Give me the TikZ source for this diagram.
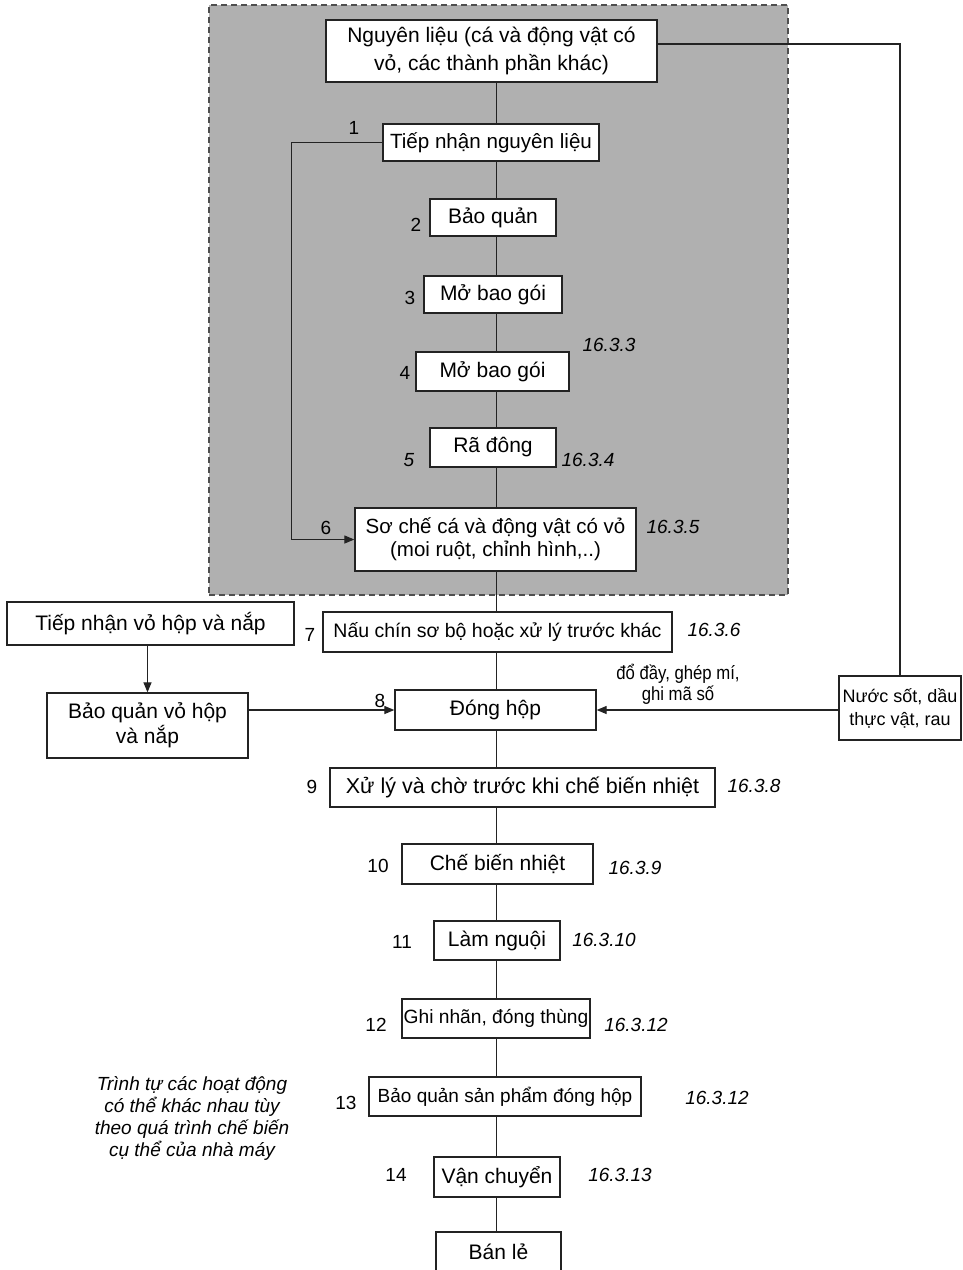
\documentclass[tikz,border=0pt]{standalone}
\usepackage{fontspec}
\setmainfont{Liberation Sans}
\newfontfamily\narrowfont[FakeStretch=0.88]{Liberation Sans}
\usetikzlibrary{arrows.meta}
\definecolor{bggray}{RGB}{176,176,176}
\definecolor{ink}{RGB}{35,35,35}
\newcommand{\fsz}[2]{\fontsize{#1}{#2}\selectfont}
\begin{document}
\begin{tikzpicture}[x=1pt,y=-1pt,
  box/.style={draw=ink, line width=1.3pt, fill=white, inner sep=0pt, align=center, font=\fsz{21}{26}},
  num/.style={inner sep=0pt, font=\fsz{19}{22}},
  ref/.style={inner sep=0pt, font=\fsz{19}{22}\itshape},
  link/.style={draw=ink, line width=1.2pt},
  arr/.style={link, -{Triangle[length=10pt,width=8pt]}},
]
\useasboundingbox (0,0) rectangle (963,1270);
\fill[white] (0,0) rectangle (963,1270);
% shaded region
\node[fill=bggray, draw=ink!80, line width=1.3pt, dash pattern=on 6pt off 4pt, inner sep=0pt,
      minimum width=579pt, minimum height=590pt] (zone) at (498.5,300) {};
\coordinate (spine) at (496.5,0);

% main chain
\node[box, minimum width=331pt, minimum height=62pt, font=\fsz{21}{28}] (nguyen) at (491.5,51) {Nguyên liệu (cá và động vật có\\vỏ, các thành phần khác)};
\node[box, minimum width=216pt, minimum height=37pt, font=\fsz{20.6}{26}] (tiepnhan) at (491,142.5) {Tiếp nhận nguyên liệu};
\node[box, minimum width=126pt, minimum height=37pt] (baoquan) at (493,217.5) {Bảo quản};
\node[box, minimum width=138pt, minimum height=37pt] (mo3) at (493,294.5) {Mở bao gói};
\node[box, minimum width=153pt, minimum height=39pt] (mo4) at (492.5,371.5) {Mở bao gói};
\node[box, minimum width=126pt, minimum height=39pt] (radong) at (493,447.5) {Rã đông};
\node[box, minimum width=281pt, minimum height=63pt, font=\fsz{20.5}{23}] (soche) at (495.5,539.5) {Sơ chế cá và động vật có vỏ\\(moi ruột, chỉnh hình,..)};
\node[box, minimum width=349pt, minimum height=40pt, font=\fsz{19.5}{23}] (nauchin) at (497.5,632) {Nấu chín sơ bộ hoặc xử lý trước khác};
\node[box, minimum width=201pt, minimum height=40pt] (donghop) at (495.5,710) {Đóng hộp};
\node[box, minimum width=385pt, minimum height=39pt, font=\fsz{21.5}{25}] (xuly) at (522.5,787.5) {Xử lý và chờ trước khi chế biến nhiệt};
\node[box, minimum width=191pt, minimum height=40pt] (chebien) at (497.5,864) {Chế biến nhiệt};
\node[box, minimum width=126pt, minimum height=39pt] (lamnguoi) at (497,940.5) {Làm nguội};
\node[box, minimum width=188pt, minimum height=39pt, font=\fsz{19.2}{23}] (ghinhan) at (496,1018.5) {\raisebox{5pt}{Ghi nhãn, đóng thùng}};
\node[box, minimum width=272pt, minimum height=39pt, font=\fsz{19}{22}] (baoquansp) at (505,1096.5) {\raisebox{3pt}{Bảo quản sản phẩm đóng hộp}};
\node[box, minimum width=126pt, minimum height=40pt] (vanchuyen) at (497,1177) {Vận chuyển};
\node[box, minimum width=125pt, minimum height=40pt] (banle) at (498.5,1252) {Bán lẻ};

% side boxes
\node[box, minimum width=287pt, minimum height=43pt] (tiepvo) at (150.5,623.5) {Tiếp nhận vỏ hộp và nắp};
\node[box, minimum width=201pt, minimum height=65pt, font=\fsz{21}{25}] (baoquanvo) at (147.5,725.5) {Bảo quản vỏ hộp\\và nắp};
\node[box, minimum width=122pt, minimum height=64pt, font=\fsz{18}{23}] (nuocsot) at (900,708) {Nước sốt, dầu\\thực vật, rau};

% step numbers
\node[num] (n1) at (354,128) {1};
\node[num] (n2) at (416,225) {2};
\node[num] (n3) at (410,298) {3};
\node[num] (n4) at (405,373) {4};
\node[num, font=\fsz{19}{22}\itshape] (n5) at (409,460) {5};
\node[num] (n6) at (326,528) {6};
\node[num] (n7) at (310,635) {7};
\node[num] (n8) at (380,701) {8};
\node[num] (n9) at (312,787) {9};
\node[num] (n10) at (378,866) {10};
\node[num] (n11) at (402,942) {11};
\node[num] (n12) at (376,1025) {12};
\node[num] (n13) at (346,1103) {13};
\node[num] (n14) at (396,1175) {14};

% clause references
\node[ref] (r3) at (609,345) {16.3.3};
\node[ref] (r4) at (588,460) {16.3.4};
\node[ref] (r5) at (673,527) {16.3.5};
\node[ref] (r6) at (714,630) {16.3.6};
\node[ref] (r8) at (754,786) {16.3.8};
\node[ref] (r9) at (635,868) {16.3.9};
\node[ref] (r10) at (604,940) {16.3.10};
\node[ref] (r12a) at (636,1025) {16.3.12};
\node[ref] (r12b) at (717,1098) {16.3.12};
\node[ref] (r13) at (620,1175) {16.3.13};

% other labels
\node[inner sep=0pt, align=center, font=\narrowfont\fsz{19}{21}] (fill) at (678,684) {đổ đầy, ghép mí,\\ghi mã số};
\node[inner sep=0pt, align=center, font=\fsz{19}{22}\itshape] (note) at (192,1118) {Trình tự các hoạt động\\có thể khác nhau tùy\\theo quá trình chế biến\\cụ thể của nhà máy};

% spine connectors
\foreach \a/\b in {nguyen/tiepnhan, tiepnhan/baoquan, baoquan/mo3, mo3/mo4, mo4/radong, radong/soche,
                   soche/nauchin, nauchin/donghop, donghop/xuly, xuly/chebien, chebien/lamnguoi,
                   lamnguoi/ghinhan, ghinhan/baoquansp, baoquansp/vanchuyen, vanchuyen/banle}
  \draw[link] (\a.south -| spine) -- (\b.north -| spine);

% loop and side connectors
\draw[arr] (tiepnhan.west) -- ++(-91,0) |- (soche.west);
\draw[link] ([yshift=7pt]nguyen.east) -| (nuocsot.north);
\draw[arr] (tiepvo.south -| baoquanvo.north) -- (baoquanvo.north);
\draw[arr] (baoquanvo.east |- donghop.west) -- (donghop.west);
\draw[arr] (nuocsot.west |- donghop.east) -- (donghop.east);
\end{tikzpicture}
\end{document}
